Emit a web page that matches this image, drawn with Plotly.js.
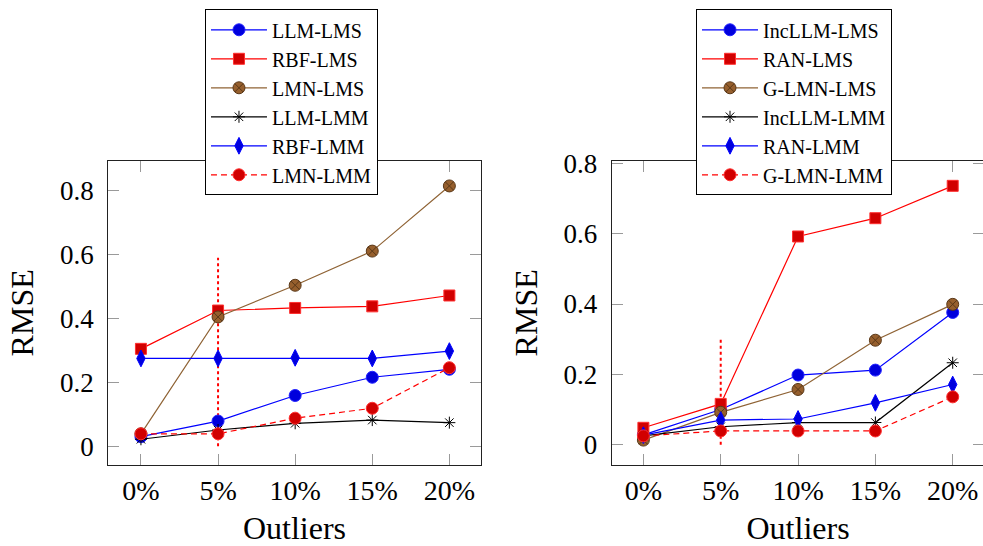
<!DOCTYPE html>
<html>
<head>
<meta charset="utf-8">
<script src="https://cdn.plot.ly/plotly-3.0.1.min.js"></script>
<style>
  html, body { margin: 0; padding: 0; background: #fff; overflow: hidden; }
  #chart { width: 985px; height: 546px; }
</style>
</head>
<body>
<div id="chart"></div>
<script>
// Outlier ratios on the x axis
const outlierLabels = ['0%', '5%', '10%', '15%', '20%'];

// Left panel: RMSE per model
const llmLms    = [0.030, 0.079, 0.159, 0.216, 0.241];
const rbfLms    = [0.305, 0.425, 0.433, 0.438, 0.472];
const lmnLms    = [0.039, 0.405, 0.504, 0.611, 0.815];
const llmLmm    = [0.022, 0.051, 0.072, 0.082, 0.074];
const rbfLmm    = [0.275, 0.275, 0.277, 0.275, 0.298];
const lmnLmm    = [0.039, 0.039, 0.088, 0.119, 0.246];

// Right panel: RMSE per incremental model
const incLlmLms = [0.028, 0.100, 0.198, 0.212, 0.376];
const ranLms    = [0.048, 0.116, 0.592, 0.644, 0.736];
const gLmnLms   = [0.013, 0.092, 0.157, 0.297, 0.399];
const incLlmLmm = [0.025, 0.051, 0.063, 0.063, 0.233];
const ranLmm    = [0.027, 0.070, 0.073, 0.119, 0.171];
const gLmnLmm   = [0.025, 0.039, 0.039, 0.039, 0.136];

// Dotted marker at the 5% outlier level
const markerX      = ['5%', '5%'];
const markerLeftY  = [0, 0.59];
const markerRightY = [0, 0.30];

const leftNames  = ['LLM-LMS', 'RBF-LMS', 'LMN-LMS', 'LLM-LMM', 'RBF-LMM', 'LMN-LMM'];
const rightNames = ['IncLLM-LMS', 'RAN-LMS', 'G-LMN-LMS', 'IncLLM-LMM', 'RAN-LMM', 'G-LMN-LMM'];

const FONT = 'Liberation Serif, Times New Roman, serif';

const styles = [
  { line: { color: '#0000ff', width: 1.2 }, marker: { symbol: 'circle', size: 12, color: '#0000dd', line: { color: '#2222ff', width: 1 } } },
  { line: { color: '#ff0000', width: 1.2 }, marker: { symbol: 'square', size: 11, color: '#d10000', line: { color: '#ff3030', width: 1 } } },
  { line: { color: '#8f6335', width: 1.2 }, marker: { symbol: 'circle-x', size: 12, color: '#965f2d', line: { color: '#5a3818', width: 1 } } },
  { line: { color: '#000000', width: 1.2 }, marker: { symbol: 'asterisk-open', size: 10, color: '#000000', line: { color: '#000000', width: 1 } } },
  { line: { color: '#0000ff', width: 1.2 }, marker: { symbol: 'diamond-tall', size: 12, color: '#0000dd', line: { color: '#0000ff', width: 1 } } },
  { line: { color: '#ff0000', width: 1.2, dash: '6px,4px' }, marker: { symbol: 'circle', size: 12, color: '#d10000', line: { color: '#ff3030', width: 1 } } }
];

function series(names, values, xa, ya, legendId) {
  return values.map((v, i) => ({
    type: 'scatter',
    mode: 'lines+markers',
    x: outlierLabels,
    y: v,
    name: names[i],
    xaxis: xa,
    yaxis: ya,
    legend: legendId,
    legendgroup: legendId + '_' + i,
    line: styles[i].line,
    marker: styles[i].marker
  }));
}

function guide(y, xa, ya) {
  return {
    type: 'scatter', mode: 'lines',
    x: markerX, y: y, xaxis: xa, yaxis: ya,
    showlegend: false, hoverinfo: 'skip',
    line: { color: '#ff0000', width: 2, dash: 'dot' }
  };
}

const data = [
  guide(markerLeftY, 'x', 'y'),
  guide(markerRightY, 'x2', 'y2'),
  ...series(leftNames, [llmLms, rbfLms, lmnLms, llmLmm, rbfLmm, lmnLmm], 'x', 'y', 'legend'),
  ...series(rightNames, [incLlmLms, ranLms, gLmnLms, incLlmLmm, ranLmm, gLmnLmm], 'x2', 'y2', 'legend2')
];

function xAxis(domain, range, anchor) {
  return {
    domain: domain, range: range, anchor: anchor,
    type: 'category', categoryorder: 'array', categoryarray: outlierLabels,
    showline: true, linecolor: '#222', linewidth: 1, mirror: 'allticks',
    ticks: 'inside', ticklen: 11, tickcolor: '#9a9a9a', tickwidth: 1,
    showgrid: false, zeroline: false,
    tickfont: { family: FONT, size: 28, color: '#000' },
    ticklabelstandoff: 0,
    title: { text: 'Outliers', font: { family: FONT, size: 32, color: '#000' }, standoff: 14 }
  };
}

function yAxis(domain, range, anchor) {
  return {
    domain: domain, range: range, anchor: anchor,
    showline: true, linecolor: '#222', linewidth: 1, mirror: 'allticks',
    ticks: 'inside', ticklen: 11, tickcolor: '#9a9a9a', tickwidth: 1,
    tickvals: [0, 0.2, 0.4, 0.6, 0.8], ticktext: ['0', '0.2', '0.4', '0.6', '0.8'],
    showgrid: false, zeroline: false,
    tickfont: { family: FONT, size: 27, color: '#000' },
    ticklabelstandoff: 8,
    title: { text: 'RMSE', font: { family: FONT, size: 32, color: '#000' }, standoff: 16 }
  };
}

function legendBox(x) {
  return {
    x: x, y: 0.983, xanchor: 'left', yanchor: 'top',
    bgcolor: '#fff', bordercolor: '#000', borderwidth: 1,
    font: { family: FONT, size: 20, color: '#000' },
    traceorder: 'grouped', tracegroupgap: 0, itemwidth: 56
  };
}

const yDomain = [0.1484, 0.7057];

const layout = {
  width: 985, height: 546,
  margin: { l: 0, r: 0, t: 0, b: 0 },
  paper_bgcolor: '#fff', plot_bgcolor: '#fff',
  font: { family: FONT, color: '#000' },
  showlegend: true,
  xaxis:  xAxis([0.1099, 0.4880], [-0.424, 4.406], 'y'),
  yaxis:  yAxis(yDomain, [-0.0585, 0.894], 'x'),
  xaxis2: xAxis([0.6210, 0.9994], [-0.41, 4.41], 'y2'),
  yaxis2: yAxis(yDomain, [-0.0577, 0.8075], 'x2'),
  legend:  legendBox(0.2081),
  legend2: legendBox(0.7066)
};

Plotly.newPlot('chart', data, layout, { staticPlot: true, displayModeBar: false });
</script>
</body>
</html>
